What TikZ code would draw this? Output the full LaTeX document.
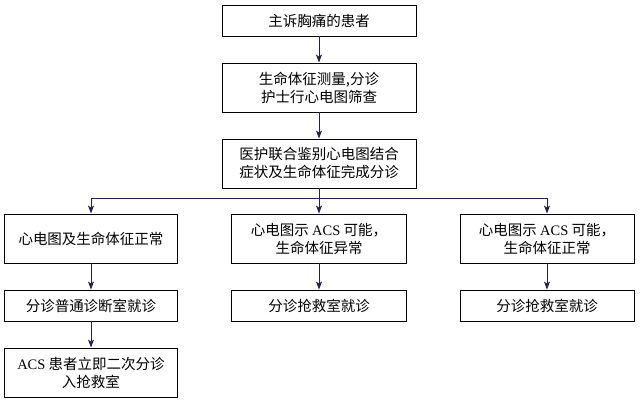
\documentclass[tikz,border=0pt]{standalone}
\usepackage{fontspec}
\setmainfont{Noto Sans CJK SC}
\newfontfamily\lat{Liberation Serif}
\usetikzlibrary{arrows.meta}
\definecolor{arrcol}{HTML}{2A1F4A}
\tikzset{
  box/.style={draw=black, line width=0.9pt, align=center, inner sep=0pt,
    font=\fontsize{14.5}{18}\selectfont},
  arr/.style={draw=arrcol, line width=0.9pt, -{Stealth[length=8pt,width=6pt,inset=2pt]}},
  bus/.style={draw=arrcol, line width=0.9pt},
}
\begin{document}
\begin{tikzpicture}[x=1pt,y=-1pt]
\useasboundingbox (0,0) rectangle (640,403);
\node[box, minimum width=194, minimum height=31] (a) at (319,20.5) {主诉胸痛的患者};
\node[box, minimum width=194, minimum height=49] (b) at (319,87.5) {生命体征测量,分诊\\护士行心电图筛查};
\node[box, minimum width=194, minimum height=49] (c) at (319,163.5) {医护联合鉴别心电图结合\\症状及生命体征完成分诊};
\node[box, minimum width=173, minimum height=49] (l1) at (91,238.5) {心电图及生命体征正常};
\node[box, minimum width=175, minimum height=49] (m1) at (319,238.5) {心电图示 {\lat ACS} 可能，\\生命体征异常};
\node[box, minimum width=174, minimum height=49] (r1) at (547,238.5) {心电图示 {\lat ACS} 可能，\\生命体征正常};
\node[box, minimum width=173, minimum height=31] (l2) at (91,305.5) {分诊普通诊断室就诊};
\node[box, minimum width=175, minimum height=31] (m2) at (319,305.5) {分诊抢救室就诊};
\node[box, minimum width=174, minimum height=31] (r2) at (547,305.5) {分诊抢救室就诊};
\node[box, minimum width=173, minimum height=49] (l3) at (91,372.5) {{\lat ACS} 患者立即二次分诊\\入抢救室};
\coordinate (busL) at (91,198);
\coordinate (busR) at (547,198);
\draw[arr] (a) -- (b);
\draw[arr] (b) -- (c);
\draw[bus] (busL) -- (busR);
\draw[arr] (c) -- (m1);
\draw[arr] (busL) -- (l1);
\draw[arr] (busR) -- (r1);
\draw[arr] (l1) -- (l2);
\draw[arr] (m1) -- (m2);
\draw[arr] (r1) -- (r2);
\draw[arr] (l2) -- (l3);
\end{tikzpicture}
\end{document}
